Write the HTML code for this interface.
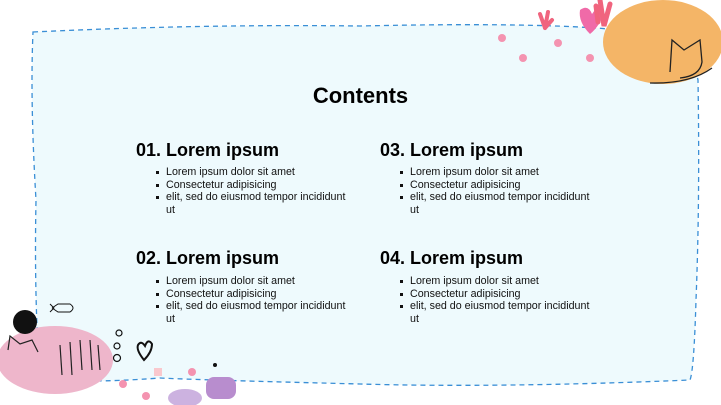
<!DOCTYPE html>
<html><head><style>
body{margin:0;width:721px;height:405px;overflow:hidden;background:#fff;position:relative;font-family:"Liberation Sans",Arial,sans-serif}
h1{position:absolute;left:0;width:721px;top:83px;margin:0;text-align:center;font-size:22px;font-weight:bold}
.h{position:absolute;font-size:18px;font-weight:bold;margin:0}
ul{position:absolute;margin:0;padding:0;list-style:none;font-size:10.7px;line-height:12.6px;color:#111;width:190px}
li{position:relative;padding-left:10px}
li:before{content:"";position:absolute;left:0;top:5px;width:3px;height:3px;background:#111}
</style></head><body>
<svg width="721" height="405" style="position:absolute;left:0;top:0">
<path d="M33 32 Q200 24 360 26 Q540 22 620 30 Q690 40 698 80 Q700 200 696 300 Q694 370 690 380 Q500 388 360 384 Q200 380 160 378 Q80 384 40 378 Q34 300 36 200 Q30 100 33 32 Z" fill="#eefafd" stroke="#3a8fd6" stroke-width="1.3" stroke-dasharray="5,4"/>
<ellipse cx="663" cy="42" rx="60" ry="42" fill="#f4b567"/>
<path d="M670 72 L672 40 L684 50 L700 40 L702 62 Q700 76 680 78" fill="none" stroke="#222" stroke-width="1.3"/>
<path d="M650 83 Q690 84 712 68" fill="none" stroke="#222" stroke-width="1.3"/>
<path d="M580 10 Q588 4 592 14 Q598 4 604 12 Q600 26 590 34 Q578 22 580 10Z" fill="#f06aa8"/>
<path d="M600 0 L604 26 L610 4 M598 22 L596 6" stroke="#f0647e" stroke-width="5" stroke-linecap="round" fill="none"/>
<path d="M545 28 L540 14 M545 28 L548 12 M545 28 L552 20" stroke="#f0647e" stroke-width="4" stroke-linecap="round" fill="none"/>
<g fill="#f493b0"><circle cx="502" cy="38" r="4"/><circle cx="558" cy="43" r="4"/><circle cx="523" cy="58" r="4"/><circle cx="590" cy="58" r="4"/></g>
<ellipse cx="55" cy="360" rx="58" ry="34" fill="#eeb6cb"/>
<path d="M8 350 L10 336 L20 344 L32 340 L38 352" fill="none" stroke="#222" stroke-width="1.2"/>
<g stroke="#222" stroke-width="1.2"><line x1="60" y1="345" x2="62" y2="375"/><line x1="70" y1="342" x2="72" y2="375"/><line x1="80" y1="340" x2="82" y2="370"/><line x1="90" y1="340" x2="92" y2="370"/><line x1="98" y1="345" x2="100" y2="370"/></g>
<circle cx="25" cy="322" r="12" fill="#111"/>
<path d="M52 308 L58 304 L70 304 Q76 308 70 312 L58 312 L52 308 M50 304 L54 308 L50 312" fill="none" stroke="#111" stroke-width="1"/>
<g fill="none" stroke="#111" stroke-width="1.2"><circle cx="119" cy="333" r="3"/><circle cx="117" cy="346" r="3"/><circle cx="117" cy="358" r="3.5"/></g>
<path d="M144 360 Q136 350 138 345 Q141 340 145 346 Q148 338 152 344 Q152 352 144 360Z" fill="none" stroke="#111" stroke-width="2"/>
<circle cx="215" cy="365" r="2" fill="#111"/>
<rect x="206" y="377" width="30" height="22" rx="8" fill="#b88dce"/>
<ellipse cx="185" cy="398" rx="17" ry="9" fill="#ccb2e0"/>
<g fill="#f493b0"><circle cx="123" cy="384" r="4"/><circle cx="146" cy="396" r="4"/><circle cx="192" cy="372" r="4"/><rect x="154" y="368" width="8" height="8" fill="#f9c8cd"/></g>
</svg>
<h1>Contents</h1>
<div class="h" style="left:136px;top:140px">01. Lorem ipsum</div>
<div class="h" style="left:380px;top:140px">03. Lorem ipsum</div>
<div class="h" style="left:136px;top:248px">02. Lorem ipsum</div>
<div class="h" style="left:380px;top:248px">04. Lorem ipsum</div>
<ul style="left:156px;top:166px"><li>Lorem ipsum dolor sit amet</li><li>Consectetur adipisicing</li><li>elit, sed do eiusmod tempor incididunt ut</li></ul>
<ul style="left:400px;top:166px"><li>Lorem ipsum dolor sit amet</li><li>Consectetur adipisicing</li><li>elit, sed do eiusmod tempor incididunt ut</li></ul>
<ul style="left:156px;top:275px"><li>Lorem ipsum dolor sit amet</li><li>Consectetur adipisicing</li><li>elit, sed do eiusmod tempor incididunt ut</li></ul>
<ul style="left:400px;top:275px"><li>Lorem ipsum dolor sit amet</li><li>Consectetur adipisicing</li><li>elit, sed do eiusmod tempor incididunt ut</li></ul>
</body></html>
